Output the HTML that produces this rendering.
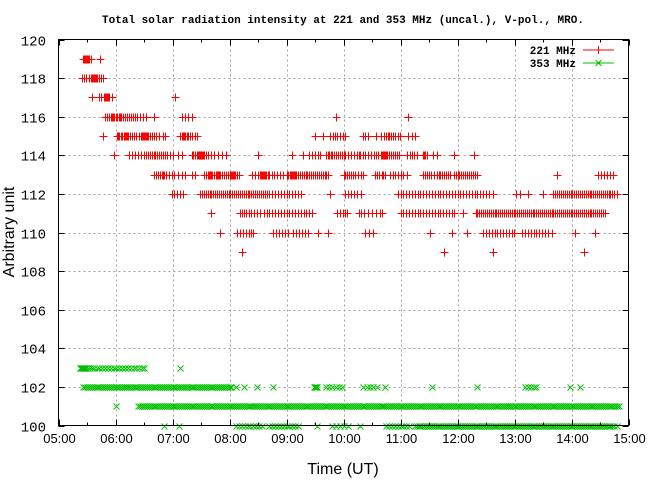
<!DOCTYPE html>
<html><head><meta charset="utf-8"><style>
html,body{margin:0;padding:0;background:#fff;}
svg{display:block;}
text{fill:#000;}
</style></head><body>
<svg id="chart" width="650" height="480" viewBox="0 0 650 480" xmlns="http://www.w3.org/2000/svg">
<rect x="0" y="0" width="650" height="480" fill="#fff"/>
<text x="343" y="23" text-anchor="middle" font-family="Liberation Mono, monospace" font-weight="bold" font-size="11">Total solar radiation intensity at 221 and 353 MHz (uncal.), V-pol., MRO.</text>
<g id="grid"></g>
<g id="marks221"></g>
<g id="marks353"></g>
<g id="axes"></g>
<text transform="translate(14,232) rotate(-90)" text-anchor="middle" font-family="Liberation Sans, sans-serif" font-size="16">Arbitrary unit</text>
<text x="343" y="474" text-anchor="middle" font-family="Liberation Sans, sans-serif" font-size="16">Time (UT)</text>
<g>
<text x="576" y="54" text-anchor="end" font-family="Liberation Mono, monospace" font-weight="bold" font-size="11">221 MHz</text>
<line x1="583" y1="50" x2="614" y2="50" stroke="#ff0000" stroke-width="1"/>
<path d="M594.5 50h8M598.5 46v8" stroke="#ff0000" stroke-width="1"/>
<text x="576" y="67" text-anchor="end" font-family="Liberation Mono, monospace" font-weight="bold" font-size="11">353 MHz</text>
<line x1="583" y1="63" x2="614" y2="63" stroke="#00c000" stroke-width="1"/>
<path d="M595.5 60l6 6M601.5 60l-6 6" stroke="#00c000" stroke-width="1"/>
</g>
</svg>
<script>
// x values: minutes after 05:00 UT
const xTickLabels = ["05:00","06:00","07:00","08:00","09:00","10:00","11:00","12:00","13:00","14:00","15:00"];
const yTickLabels = [100,102,104,106,108,110,112,114,116,118,120];
// 221 MHz: each level and the times at which it was observed
const levels221 = [119,118,117,116,115,114,113,112,111,110,109];
const t221_119 = [26,27,28,29,30,31,32,34,44];
const t221_118 = [25,27,29,32,34,35,36,37,38,39,40,41,43,45,47];
const t221_117 = [35,43,45,48,49,50,51,52,53,56,123];
const t221_116 = [49,51,53,55,56,57,58,60,62,64,65,66,68,70,72,74,76,78,80,83,86,89,92,101,130,133,136,140,292,368];
const t221_115 = [47,62,63,64,66,67,69,70,71,72,73,75,77,79,82,85,87,88,89,90,91,92,93,94,96,98,100,103,106,110,112,128,130,131,132,133,135,136,138,141,144,146,270,278,286,289,291,293,296,299,302,321,323,326,334,339,343,345,347,348,350,352,354,357,359,368,372,375];
const t221_114 = [58,74,77,80,84,87,90,92,94,96,98,100,102,104,106,108,110,112,114,117,121,126,130,140,142,144,146,147,148,149,150,151,152,153,155,157,160,164,168,172,176,210,246,257,264,267,270,273,275,282,284,285,287,288,290,292,294,296,298,300,302,305,308,311,314,316,317,320,323,326,329,332,334,336,339,341,342,343,344,345,346,348,350,352,354,356,358,367,370,372,374,377,384,385,386,388,394,398,416,437];
const t221_113 = [100,103,105,107,109,110,111,113,116,119,122,126,130,133,140,144,153,155,157,158,159,160,162,164,166,167,168,169,170,172,174,176,178,180,181,182,183,184,185,186,188,190,204,207,210,212,213,214,215,216,217,218,220,222,225,227,230,233,236,240,242,244,245,246,247,248,249,250,252,254,256,258,260,262,264,266,268,270,272,274,276,278,280,282,284,300,302,304,306,308,310,312,315,318,321,333,335,337,340,342,344,349,352,354,357,360,363,367,384,386,388,390,392,395,398,400,402,404,406,408,410,412,416,418,420,422,424,426,428,430,432,434,436,438,441,525,568,571,574,577,580,584];
const t221_112 = [119,122,125,128,131,149,151,153,155,157,159,161,163,165,167,169,171,173,175,177,179,181,183,185,187,189,191,193,195,197,199,201,203,205,207,209,211,213,215,217,219,222,225,228,231,234,237,240,243,246,249,252,255,286,302,305,308,311,314,318,357,360,363,366,369,372,375,378,381,384,387,390,393,396,399,402,405,408,411,414,417,420,423,426,429,432,435,438,441,444,447,450,453,457,482,486,494,510,521,523,525,527,529,531,533,535,537,539,541,543,545,547,549,551,553,555,557,559,561,563,565,567,569,571,573,575,577,579,581,583,585,588];
const t221_111 = [161,191,193,195,197,200,203,206,209,212,216,219,222,225,228,231,234,237,240,243,246,249,252,255,258,261,264,267,293,296,299,302,304,316,318,322,326,330,334,338,341,360,363,366,369,372,375,378,381,384,387,390,393,396,399,402,405,408,411,414,416,426,439,441,443,445,447,449,451,453,455,457,459,461,463,465,467,469,471,473,475,477,479,481,483,485,487,489,491,493,495,497,499,501,503,505,507,509,511,513,515,517,519,521,523,525,527,529,531,533,535,537,539,541,543,545,547,549,551,553,555,557,559,561,563,565,567,569,571,573,575];
const t221_110 = [170,188,191,194,197,200,203,205,226,229,232,235,238,242,247,250,253,256,259,263,273,284,323,327,331,391,414,430,447,450,453,456,459,462,465,468,471,474,477,479,488,491,494,497,500,503,506,509,512,515,519,544,565];
const t221_109 = [193,406,457,553];
const times221 = [t221_119,t221_118,t221_117,t221_116,t221_115,t221_114,t221_113,t221_112,t221_111,t221_110,t221_109];
// 353 MHz
const levels353 = [103,102,101,100];
const t353_103 = [23,24,25,26,27,28,29,31,33,35,37,40,43,46,49,52,55,58,61,64,67,70,73,76,79,82,85,88,90,128];
const t353_102 = [26,28,30,32,34,36,38,40,42,44,46,48,50,52,54,56,58,60,62,64,66,68,70,72,74,76,78,80,82,84,86,88,90,92,94,96,98,100,102,104,106,108,110,112,114,116,118,120,122,124,126,128,130,132,134,136,138,140,142,144,146,148,150,152,154,156,158,160,162,164,166,168,170,172,174,176,178,180,182,187,195,209,226,269,270,271,272,282,285,288,292,295,298,321,325,328,331,335,344,393,441,491,494,497,500,503,538,549];
const t353_101 = [61,84,86,88,90,92,94,96,98,100,102,104,106,108,110,112,114,116,118,120,122,124,126,128,130,132,134,136,138,140,142,144,146,148,150,152,154,156,158,160,162,164,166,168,170,172,174,176,178,180,182,184,186,188,190,192,194,196,198,200,202,204,206,208,210,212,214,216,218,220,222,224,226,228,230,232,234,236,238,240,242,244,246,248,250,252,254,256,258,260,262,264,266,268,270,272,274,276,278,280,282,284,286,288,290,292,294,296,298,300,302,304,306,308,310,312,314,316,318,320,322,324,326,328,330,332,334,336,338,340,342,344,346,348,350,352,354,356,358,360,362,364,366,368,370,372,374,376,378,380,382,384,386,388,390,392,394,396,398,400,402,404,406,408,410,412,414,416,418,420,422,424,426,428,430,432,434,436,438,440,442,444,446,448,450,452,454,456,458,460,462,464,466,468,470,472,474,476,478,480,482,484,486,488,490,492,494,496,498,500,502,504,506,508,510,512,514,516,518,520,522,524,526,528,530,532,534,536,538,540,542,544,546,548,550,552,554,556,558,560,562,564,566,568,570,572,574,576,578,580,582,584,586,588,590];
const t353_100 = [111,127,187,190,193,196,199,202,205,208,211,214,222,225,228,231,234,237,240,243,246,249,252,272,288,292,296,300,305,317,345,348,351,354,357,360,363,366,369,375,377,379,381,383,385,387,389,391,393,395,397,399,401,403,405,407,409,411,413,415,417,419,421,423,425,427,429,431,433,435,437,439,441,443,445,447,449,451,453,455,457,459,461,463,465,467,469,471,473,475,477,479,481,483,485,487,489,491,493,495,497,499,501,503,505,507,509,511,513,515,517,519,521,523,525,527,529,531,533,535,537,539,541,543,545,547,549,551,553,555,557,559,561,563,565,567,569,571,573,575,577,579,581,583,585,588];
const times353 = [t353_103,t353_102,t353_101,t353_100];

const NS = "http://www.w3.org/2000/svg";
const L = 58.5, R = 628.5, T = 39.5, B = 425.5;
const xMin = 0, xMax = 600, yMin = 100, yMax = 120;
function xs(m){ return L + (m - xMin) / (xMax - xMin) * (R - L); }
function ys(v){ return B - (v - yMin) / (yMax - yMin) * (B - T); }
function mk(tag, attrs, parent){ const e = document.createElementNS(NS, tag); for (const k in attrs) e.setAttribute(k, attrs[k]); parent.appendChild(e); return e; }

const grid = document.getElementById('grid');
const axes = document.getElementById('axes');
// horizontal grid + y ticks
yTickLabels.forEach(function(v){
  const y = Math.round(ys(v)) + 0.5;
  if (v > yMin && v < yMax) {
    const g = mk('line', {x1:L, x2:R, y1:y, y2:y, stroke:'#a0a0a0', 'stroke-width':1, 'stroke-dasharray':'2,3'}, grid);
    
    
  }
  const t1 = mk('line', {x1:L, x2:L+6, y1:y, y2:y, stroke:'#000'}, axes);
  
  
  const t2 = mk('line', {x1:R-6, x2:R, y1:y, y2:y, stroke:'#000'}, axes);
  
  
  const lb = mk('text', {x:46, y:y+5, 'text-anchor':'end', 'font-family':'Liberation Mono, monospace', 'font-size':'14'}, axes);
  lb.textContent = v;
  
  
});
// vertical grid + x ticks
xTickLabels.forEach(function(s, i){
  const x = Math.round(xs(i * 60)) + 0.5;
  if (i > 0 && i < xTickLabels.length - 1) {
    const g = mk('line', {x1:x, x2:x, y1:T, y2:B, stroke:'#a0a0a0', 'stroke-width':1, 'stroke-dasharray':'2,3'}, grid);
    
    
  }
  const t1 = mk('line', {x1:x, x2:x, y1:B-6, y2:B, stroke:'#000'}, axes);
  
  
  const t2 = mk('line', {x1:x, x2:x, y1:T, y2:T+6, stroke:'#000'}, axes);
  
  
  if (i < xTickLabels.length - 1) {
    const xm = Math.round(xs(i * 60 + 30)) + 0.5;
    const m1 = mk('line', {x1:xm, x2:xm, y1:B-3, y2:B, stroke:'#000'}, axes);
    
    
    const m2 = mk('line', {x1:xm, x2:xm, y1:T, y2:T+3, stroke:'#000'}, axes);
    
    
  }
  const lb = mk('text', {x:x, y:443, 'text-anchor':'middle', 'font-family':'Liberation Sans, sans-serif', 'font-size':'13'}, axes);
  lb.textContent = s;
  
  
});
const frame = mk('rect', {x:L, y:T, width:R-L, height:B-T, fill:'none', stroke:'#000', 'stroke-width':1}, axes);



// 221 MHz "+" markers
let d221 = '';
levels221.forEach(function(v, i){
  times221[i].forEach(function(m){
    const x = Math.round(xs(m)) + 0.5, y = Math.round(ys(v)) + 0.5;
    d221 += 'M' + (x-4) + ' ' + y + 'h8M' + x + ' ' + (y-4) + 'v8';
  });
});
const p221 = mk('path', {d:d221, stroke:'#ff0000', 'stroke-width':1, fill:'none'}, document.getElementById('marks221'));



// 353 MHz "x" markers
let d353 = '';
levels353.forEach(function(v, i){
  times353[i].forEach(function(m){
    const x = Math.round(xs(m)) + 0.5, y = Math.round(ys(v)) + 0.5;
    d353 += 'M' + (x-3) + ' ' + (y-3) + 'l6 6M' + (x+3) + ' ' + (y-3) + 'l-6 6';
  });
});
const p353 = mk('path', {d:d353, stroke:'#00c000', 'stroke-width':1, fill:'none'}, document.getElementById('marks353'));


</script>
</body></html>
